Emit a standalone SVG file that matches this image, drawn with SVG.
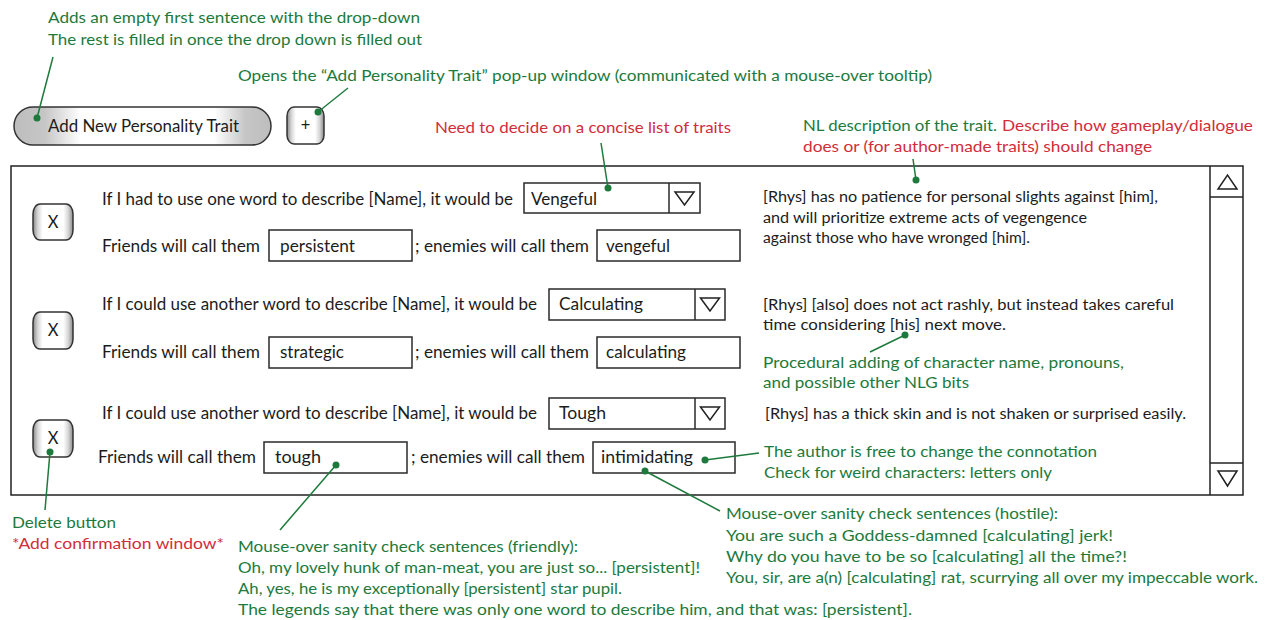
<svg xmlns="http://www.w3.org/2000/svg" width="1265" height="620" viewBox="0 0 1265 620">
  <style>
    text { font-family: Lato, "Open Sans", "Liberation Sans", sans-serif; font-size: 16px; }
    .k { fill: #1c1c1c; font-size: 16.5px; }
    .d { fill: #1c1c1c; font-size: 14.5px; }
    .g { fill: #1d7a3c; }
    .r { fill: #d22d3a; }
    .box { fill: #ffffff; stroke: #2a2a2a; stroke-width: 1.5; }
    .frame { fill: #ffffff; stroke: #222222; stroke-width: 1.5; }
    .tri { fill: #ffffff; stroke: #222222; stroke-width: 1.5; stroke-linejoin: miter; }
    .btn { fill: url(#edgeShade); stroke: #333333; stroke-width: 1.5; }
    .conn line { stroke: #1d7a3c; stroke-width: 1.5; }
    .conn circle { fill: #1d7a3c; }
  </style>
  <defs>
    <linearGradient id="pillShade" x1="0" y1="0" x2="1" y2="0">
      <stop offset="0" stop-color="#bdbdbd"/>
      <stop offset="0.12" stop-color="#c6c6c6"/>
      <stop offset="0.26" stop-color="#ffffff"/>
      <stop offset="0.78" stop-color="#ffffff"/>
      <stop offset="0.9" stop-color="#c6c6c6"/>
      <stop offset="1" stop-color="#bdbdbd"/>
    </linearGradient>
    <linearGradient id="edgeShade" x1="0" y1="0" x2="1" y2="0">
      <stop offset="0" stop-color="#8a8a8a"/>
      <stop offset="0.12" stop-color="#d6d6d6"/>
      <stop offset="0.24" stop-color="#ffffff"/>
      <stop offset="0.76" stop-color="#ffffff"/>
      <stop offset="0.88" stop-color="#d6d6d6"/>
      <stop offset="1" stop-color="#8a8a8a"/>
    </linearGradient>
  </defs>

  <!-- toolbar buttons -->
  <g id="add-trait-button">
    <rect x="14" y="107" width="257" height="38" rx="19" ry="19" fill="url(#pillShade)" stroke="#333" stroke-width="1.5"/>
    <text class="k" x="48" y="132" textLength="191" lengthAdjust="spacingAndGlyphs">Add New Personality Trait</text>
  </g>
  <g id="plus-button">
    <rect class="btn" x="287" y="107" width="37" height="37" rx="7" ry="9"/>
    <text class="k" x="305.5" y="131" text-anchor="middle">+</text>
  </g>

  <!-- trait list panel with scrollbar -->
  <g id="trait-panel">
    <rect class="frame" x="11" y="166" width="1232" height="329"/>
  </g>
  <g id="scrollbar">
    <line x1="1210" y1="166" x2="1210" y2="495" stroke="#222" stroke-width="1.5"/>
    <line x1="1210" y1="197" x2="1243" y2="197" stroke="#222" stroke-width="1.5"/>
    <line x1="1210" y1="463" x2="1243" y2="463" stroke="#222" stroke-width="1.5"/>
    <polygon class="tri" points="1218,189 1237,189 1227.5,175"/>
    <polygon class="tri" points="1218,471 1237,471 1227.5,486"/>
  </g>

  <!-- trait row 1 -->
  <g id="trait-row-1">
    <rect class="btn" x="33" y="204" width="40" height="36" rx="7" ry="10"/>
    <text class="k" x="53" y="228" text-anchor="middle">X</text>
    <text class="k" x="102" y="205" textLength="411" lengthAdjust="spacingAndGlyphs">If I had to use one word to describe [Name], it would be</text>
    <rect class="box" x="524" y="183" width="176" height="30"/>
    <line x1="669" y1="183" x2="669" y2="213" stroke="#2a2a2a" stroke-width="1.5"/>
    <polygon class="tri" points="675,192 694,192 684.5,205"/>
    <text class="k" x="531" y="205" textLength="66" lengthAdjust="spacingAndGlyphs">Vengeful</text>
    <text class="k" x="102" y="252" textLength="158" lengthAdjust="spacingAndGlyphs">Friends will call them</text>
    <rect class="box" x="269" y="230" width="143" height="31"/>
    <text class="k" x="280" y="252" textLength="75" lengthAdjust="spacingAndGlyphs">persistent</text>
    <text class="k" x="415" y="252" textLength="174" lengthAdjust="spacingAndGlyphs">; enemies will call them</text>
    <rect class="box" x="597" y="230" width="143" height="31"/>
    <text class="k" x="606" y="252" textLength="64" lengthAdjust="spacingAndGlyphs">vengeful</text>
    <text class="d" x="763" y="202" textLength="395" lengthAdjust="spacingAndGlyphs">[Rhys] has no patience for personal slights against [him],</text>
    <text class="d" x="763" y="223" textLength="324" lengthAdjust="spacingAndGlyphs">and will prioritize extreme acts of vegengence</text>
    <text class="d" x="763" y="243" textLength="267" lengthAdjust="spacingAndGlyphs">against those who have wronged [him].</text>
  </g>

  <!-- trait row 2 -->
  <g id="trait-row-2">
    <rect class="btn" x="33" y="312" width="40" height="37" rx="7" ry="10"/>
    <text class="k" x="53" y="336" text-anchor="middle">X</text>
    <text class="k" x="102" y="310" textLength="435" lengthAdjust="spacingAndGlyphs">If I could use another word to describe [Name], it would be</text>
    <rect class="box" x="549" y="289" width="176" height="31"/>
    <line x1="695" y1="289" x2="695" y2="320" stroke="#2a2a2a" stroke-width="1.5"/>
    <polygon class="tri" points="700.5,298 719.5,298 710,311"/>
    <text class="k" x="559" y="310" textLength="84" lengthAdjust="spacingAndGlyphs">Calculating</text>
    <text class="k" x="102" y="358" textLength="158" lengthAdjust="spacingAndGlyphs">Friends will call them</text>
    <rect class="box" x="269" y="337" width="143" height="31"/>
    <text class="k" x="280" y="358" textLength="64" lengthAdjust="spacingAndGlyphs">strategic</text>
    <text class="k" x="415" y="358" textLength="174" lengthAdjust="spacingAndGlyphs">; enemies will call them</text>
    <rect class="box" x="597" y="337" width="143" height="31"/>
    <text class="k" x="606" y="358" textLength="80" lengthAdjust="spacingAndGlyphs">calculating</text>
    <text class="d" x="763" y="310" textLength="411" lengthAdjust="spacingAndGlyphs">[Rhys] [also] does not act rashly, but instead takes careful</text>
    <text class="d" x="763" y="330" textLength="243" lengthAdjust="spacingAndGlyphs">time considering [his] next move.</text>
  </g>

  <!-- trait row 3 -->
  <g id="trait-row-3">
    <rect class="btn" x="33" y="420" width="40" height="37" rx="7" ry="10"/>
    <text class="k" x="53" y="444" text-anchor="middle">X</text>
    <text class="k" x="102" y="419" textLength="435" lengthAdjust="spacingAndGlyphs">If I could use another word to describe [Name], it would be</text>
    <rect class="box" x="549" y="398" width="176" height="31"/>
    <line x1="695" y1="398" x2="695" y2="429" stroke="#2a2a2a" stroke-width="1.5"/>
    <polygon class="tri" points="700.5,407 719.5,407 710,420"/>
    <text class="k" x="559" y="419" textLength="47" lengthAdjust="spacingAndGlyphs">Tough</text>
    <text class="k" x="98" y="463" textLength="158" lengthAdjust="spacingAndGlyphs">Friends will call them</text>
    <rect class="box" x="264" y="442" width="143" height="31"/>
    <text class="k" x="275" y="463" textLength="46" lengthAdjust="spacingAndGlyphs">tough</text>
    <text class="k" x="411" y="463" textLength="174" lengthAdjust="spacingAndGlyphs">; enemies will call them</text>
    <rect class="box" x="593" y="442" width="142" height="31"/>
    <text class="k" x="601" y="463" textLength="92" lengthAdjust="spacingAndGlyphs">intimidating</text>
    <text class="d" x="765" y="419" textLength="421" lengthAdjust="spacingAndGlyphs">[Rhys] has a thick skin and is not shaken or surprised easily.</text>
  </g>

  <!-- annotation notes -->
  <g id="note-add-trait">
    <text class="g" x="48" y="23" textLength="372" lengthAdjust="spacingAndGlyphs">Adds an empty first sentence with the drop-down</text>
    <text class="g" x="48" y="45" textLength="374" lengthAdjust="spacingAndGlyphs">The rest is filled in once the drop down is filled out</text>
  </g>
  <g id="note-plus">
    <text class="g" x="238" y="81" textLength="694" lengthAdjust="spacingAndGlyphs">Opens the “Add Personality Trait” pop-up window (communicated with a mouse-over tooltip)</text>
  </g>
  <g id="note-trait-list">
    <text class="r" x="435" y="133" textLength="296" lengthAdjust="spacingAndGlyphs">Need to decide on a concise list of traits</text>
  </g>
  <g id="note-description">
    <text class="g" x="803" y="131" textLength="194" lengthAdjust="spacingAndGlyphs">NL description of the trait.</text>
    <text class="r" x="1002" y="131" textLength="251" lengthAdjust="spacingAndGlyphs">Describe how gameplay/dialogue</text>
    <text class="r" x="803" y="152" textLength="349" lengthAdjust="spacingAndGlyphs">does or (for author-made traits) should change</text>
  </g>
  <g id="note-procedural">
    <text class="g" x="763" y="368" textLength="361" lengthAdjust="spacingAndGlyphs">Procedural adding of character name, pronouns,</text>
    <text class="g" x="763" y="388" textLength="206" lengthAdjust="spacingAndGlyphs">and possible other NLG bits</text>
  </g>
  <g id="note-connotation">
    <text class="g" x="764" y="457" textLength="333" lengthAdjust="spacingAndGlyphs">The author is free to change the connotation</text>
    <text class="g" x="764" y="478" textLength="288" lengthAdjust="spacingAndGlyphs">Check for weird characters: letters only</text>
  </g>
  <g id="note-delete">
    <text class="g" x="12" y="528" textLength="104" lengthAdjust="spacingAndGlyphs">Delete button</text>
    <text class="r" x="12" y="549" textLength="212" lengthAdjust="spacingAndGlyphs">*Add confirmation window*</text>
  </g>
  <g id="note-friendly">
    <text class="g" x="238" y="552" textLength="340" lengthAdjust="spacingAndGlyphs">Mouse-over sanity check sentences (friendly):</text>
    <text class="g" x="238" y="573" textLength="462" lengthAdjust="spacingAndGlyphs">Oh, my lovely hunk of man-meat, you are just so... [persistent]!</text>
    <text class="g" x="238" y="594" textLength="384" lengthAdjust="spacingAndGlyphs">Ah, yes, he is my exceptionally [persistent] star pupil.</text>
    <text class="g" x="238" y="615" textLength="674" lengthAdjust="spacingAndGlyphs">The legends say that there was only one word to describe him, and that was: [persistent].</text>
  </g>
  <g id="note-hostile">
    <text class="g" x="726" y="519" textLength="332" lengthAdjust="spacingAndGlyphs">Mouse-over sanity check sentences (hostile):</text>
    <text class="g" x="726" y="541" textLength="387" lengthAdjust="spacingAndGlyphs">You are such a Goddess-damned [calculating] jerk!</text>
    <text class="g" x="726" y="562" textLength="401" lengthAdjust="spacingAndGlyphs">Why do you have to be so [calculating] all the time?!</text>
    <text class="g" x="726" y="583" textLength="532" lengthAdjust="spacingAndGlyphs">You, sir, are a(n) [calculating] rat, scurrying all over my impeccable work.</text>
  </g>

  <!-- leader lines from notes to the elements they describe -->
  <g id="connectors" class="conn">
    <line x1="53" y1="57" x2="37" y2="118"/>
    <circle cx="37" cy="118" r="3.5"/>
    <line x1="348" y1="88" x2="318" y2="112"/>
    <circle cx="318" cy="112" r="3.5"/>
    <line x1="601" y1="143" x2="608" y2="188"/>
    <circle cx="608" cy="188" r="3.5"/>
    <line x1="913" y1="159" x2="916" y2="180"/>
    <circle cx="916" cy="180" r="3.5"/>
    <line x1="870" y1="352" x2="905" y2="335"/>
    <circle cx="905" cy="335" r="3.5"/>
    <line x1="50" y1="452" x2="45" y2="510"/>
    <circle cx="50" cy="452" r="3.5"/>
    <line x1="336" y1="465" x2="280" y2="530"/>
    <circle cx="336" cy="465" r="3.5"/>
    <line x1="705" y1="460" x2="759" y2="453"/>
    <circle cx="705" cy="460" r="3.5"/>
    <line x1="645" y1="471" x2="720" y2="511"/>
    <circle cx="645" cy="471" r="3.5"/>
  </g>
</svg>
